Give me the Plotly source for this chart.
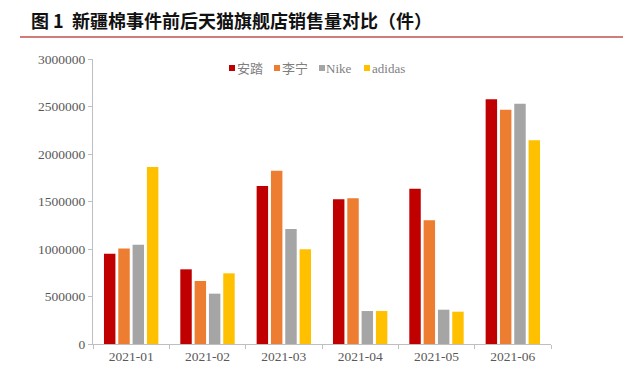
import plotly.graph_objects as go

months = ["2021-01", "2021-02", "2021-03", "2021-04", "2021-05", "2021-06"]
anta = [950000, 786000, 1663000, 1523000, 1635000, 2576000]
lining = [1005000, 663000, 1824000, 1534000, 1302000, 2466000]
nike = [1045000, 530000, 1210000, 347000, 361000, 2529000]
adidas = [1863000, 744000, 997000, 347000, 340000, 2144000]
series_names = ["安踏", "李宁", "Nike", "adidas"]
colors = ["#C00000", "#ED7D31", "#A5A5A5", "#FFC000"]
yticks = [0, 500000, 1000000, 1500000, 2000000, 2500000, 3000000]

fig = go.Figure()
for name, vals, c in zip(series_names, [anta, lining, nike, adidas], colors):
    fig.add_trace(go.Bar(name=name, x=months, y=vals, marker=dict(color=c, line=dict(width=0))))

OFF = 8  # page body margin
W, H = 640, 377
# plot area in window pixels
px0, px1, py0, py1 = 93, 551, 59, 344
L = px0 - OFF
T = py0 - OFF
pw = px1 - px0
ph = py1 - py0
R = W - L - pw
B = H - T - ph


def fx(x):
    return (x - px0) / pw


def fy(y):
    return (py1 - y) / ph


tf = dict(family="Liberation Serif, Times New Roman, serif", size=13.5, color="#595959")

fig.update_layout(
    width=W, height=H,
    margin=dict(l=L, r=R, t=T, b=B),
    paper_bgcolor="white", plot_bgcolor="white",
    barmode="group", bargap=0.25, bargroupgap=0.2,
    font=dict(family="Liberation Serif, Noto Sans CJK SC", size=13, color="#595959"),
    showlegend=False,
    xaxis=dict(type="category", showline=True, linecolor="#BFBFBF", linewidth=1, ticks="outside",
               tickcolor="#BFBFBF", ticklen=4, tickson="boundaries", showgrid=False, tickfont=tf),
    yaxis=dict(range=[0, 3000000], tickvals=yticks, ticktext=[str(v) for v in yticks],
               showline=True, linecolor="#BFBFBF", linewidth=1, ticks="outside", tickcolor="#BFBFBF",
               ticklen=4, showgrid=False, zeroline=False, tickfont=tf),
)

# legend drawn as squares + text
sq_x = [229, 274, 319, 364]
txt_x = [236, 281, 325, 371]
ly = 68
for n, c, sx, tx in zip(series_names, colors, sq_x, txt_x):
    fig.add_shape(type="rect", xref="paper", yref="paper", x0=fx(sx), x1=fx(sx + 6),
                  y0=fy(ly + 3), y1=fy(ly - 3), fillcolor=c, line=dict(width=0))
    fig.add_annotation(text=n, xref="paper", yref="paper", x=fx(tx), y=fy(ly), xanchor="left",
                       yanchor="middle", showarrow=False, borderpad=0,
                       font=dict(family="Liberation Serif, Noto Sans CJK SC", size=13, color="#7f7f7f"))

fig.add_annotation(text="<b>图 1  新疆棉事件前后天猫旗舰店销售量对比（件）</b>", xref="paper", yref="paper",
                   x=fx(30), y=fy(20), xanchor="left", yanchor="middle", showarrow=False, borderpad=0,
                   font=dict(family="Noto Sans CJK SC", size=18, color="#111111"))
fig.add_shape(type="line", xref="paper", yref="paper", x0=fx(20), x1=fx(623),
              y0=fy(37), y1=fy(37), line=dict(color="#C0504D", width=1.5))

fig.write_html("out.html")
